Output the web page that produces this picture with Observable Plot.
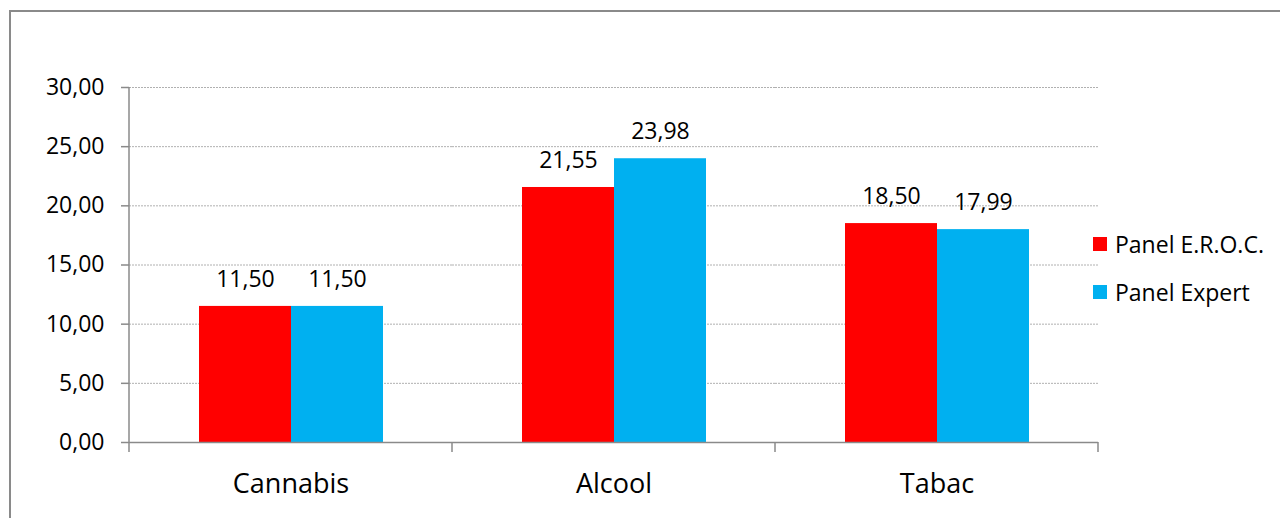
<!DOCTYPE html>
<html>
<head>
<meta charset="utf-8">
<script src="https://cdn.jsdelivr.net/npm/d3@7"></script>
<script src="https://cdn.jsdelivr.net/npm/@observablehq/plot@0.6"></script>
<style>
  body { margin: 0; background: #fff; font-family: "Open Sans", sans-serif; overflow: hidden; }
  #wrap { position: relative; width: 1280px; height: 518px; }
  #border { position: absolute; left: 9px; top: 10px; width: 1290px; height: 600px; border: 2px solid #8a8a8a; box-sizing: border-box; }
  #chart { position: absolute; left: 0; top: 0; }
  .leg { position: absolute; left: 1093px; font-size: 23px; color: #000; display: flex; align-items: center; white-space: nowrap; }
  .leg span.sw { display: inline-block; width: 14px; height: 14px; margin-right: 8px; }
</style>
</head>
<body>
<div id="wrap">
  <div id="border"></div>
  <div id="chart"></div>
  <div id="legend"></div>
</div>
<script>
const categories = ["Cannabis", "Alcool", "Tabac"];
const series = ["Panel E.R.O.C.", "Panel Expert"];
const erocValues = [11.50, 21.55, 18.50];
const expertValues = [11.50, 23.98, 17.99];
const colors = ["#FF0000", "#00B0F0"];
const yTicks = [0, 5, 10, 15, 20, 25, 30];

const data = categories.flatMap((c, i) => [
  {cat: c, series: series[0], value: erocValues[i]},
  {cat: c, series: series[1], value: expertValues[i]}
]);

const fmt = d => d.toFixed(2).replace(".", ",");
const axisColor = "#8a8a8a";

const plot = Plot.plot({
  width: 1280,
  height: 518,
  marginLeft: 129,
  marginRight: 182,
  marginTop: 87,
  marginBottom: 76,
  style: {fontFamily: "'Open Sans', sans-serif", color: "#000", background: "transparent"},
  fx: {domain: categories, padding: 0, label: null, axis: null},
  x: {domain: series, paddingInner: 0, paddingOuter: 0.755, axis: null},
  y: {domain: [0, 30], axis: null},
  color: {domain: series, range: colors},
  marks: [
    Plot.gridY(yTicks.filter(t => t > 0), {stroke: "#b0b0b0", strokeOpacity: 1, strokeDasharray: "2,1", strokeWidth: 1}),
    Plot.barY(data, {fx: "cat", x: "series", y: "value", fill: "series"}),
    Plot.text(data, {fx: "cat", x: "series", y: "value", text: d => fmt(d.value), dy: -27, fontSize: 23, fill: "#000"}),
    Plot.ruleY([0], {stroke: axisColor, strokeWidth: 1.5}),
    Plot.axisY({ticks: yTicks, tickFormat: fmt, tickSize: 8, tickPadding: 17, fontSize: 23, stroke: axisColor, strokeWidth: 1.5, label: null}),
    Plot.axisFx({anchor: "bottom", tickSize: 0, tickPadding: 31, fontSize: 27, label: null})
  ]
});
document.getElementById("chart").appendChild(plot);

// y axis line and category boundary ticks, positioned with Plot's own scales
const fx = plot.scale("fx");
const y = plot.scale("y");
const svg = d3.select(plot);
const y0 = y.apply(0), y30 = y.apply(30);
const xLeft = fx.apply(categories[0]);
svg.append("line")
  .attr("x1", xLeft).attr("x2", xLeft).attr("y1", y30).attr("y2", y0)
  .attr("stroke", axisColor).attr("stroke-width", 1.5);
const bounds = categories.map(c => fx.apply(c)).concat([fx.apply(categories[categories.length - 1]) + fx.bandwidth]);
svg.append("g").selectAll("line").data(bounds).join("line")
  .attr("x1", d => d).attr("x2", d => d).attr("y1", y0).attr("y2", y0 + 10)
  .attr("stroke", axisColor).attr("stroke-width", 1.5);

// legend
const legend = document.getElementById("legend");
const legendTops = [228, 276];
series.forEach((s, i) => {
  const row = document.createElement("div");
  row.className = "leg";
  row.style.top = legendTops[i] + "px";
  row.innerHTML = `<span class="sw" style="background:${colors[i]}"></span>${s}`;
  legend.appendChild(row);
});
</script>
</body>
</html>
